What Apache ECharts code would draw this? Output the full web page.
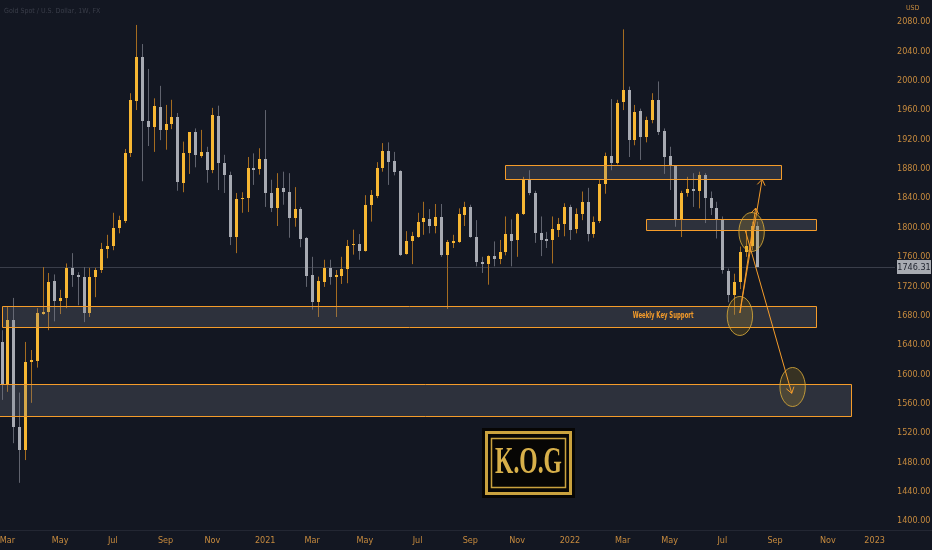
<!DOCTYPE html>
<html><head><meta charset="utf-8">
<script src="https://cdn.jsdelivr.net/npm/echarts@6/dist/echarts.min.js"></script>
<style>html,body{margin:0;padding:0;background:#131722;overflow:hidden}#c{width:932px;height:550px}</style>
</head><body><div id="c"></div><script>
// Weekly Gold Spot / USD candles, first bar week of 2020-02-24
const startDate = '2020-02-24';
const open = [1644,1585,1674,1528,1497,1617,1618,1682,1685,1727,1700,1704,1745,1735,1732,1683,1732,1742,1771,1775,
1799,1810,1902,1972,2032,1945,1937,1964,1933,1941,1950,1861,1902,1930,1897,1903,1878,1952,1888,1872,
1787,1838,1840,1881,1880,1893,1847,1827,1854,1848,1813,1825,1786,1735,1698,1726,1745,1732,1734,1743,
1775,1777,1768,1831,1843,1881,1904,1891,1877,1764,1781,1787,1808,1812,1802,1814,1762,1779,1780,1817,
1828,1787,1753,1750,1761,1757,1767,1791,1782,1818,1866,1847,1792,1784,1783,1797,1805,1828,1797,1818,
1835,1791,1808,1859,1897,1888,1970,1988,1920,1959,1924,1947,1974,1932,1897,1884,1811,1847,1853,1850,
1872,1840,1826,1811,1741,1708,1726,1767,1775,1802];
const high = [1660,1692,1704,1575,1644,1633,1690,1746,1738,1736,1715,1751,1765,1739,1746,1745,1745,1779,1790,1820,
1816,1907,1983,2076,2050,2016,1976,1993,1967,1974,1956,1917,1930,1935,1933,1910,1963,1966,1899,1876,
1847,1848,1896,1901,1908,1960,1865,1874,1876,1874,1855,1828,1787,1760,1733,1756,1756,1742,1760,1783,
1797,1791,1844,1851,1889,1915,1916,1903,1878,1795,1794,1820,1835,1825,1832,1832,1783,1790,1826,1835,
1831,1810,1760,1762,1781,1783,1815,1811,1820,1869,1878,1850,1815,1794,1815,1813,1833,1831,1826,1849,
1854,1815,1865,1902,1975,1974,2070,1992,1967,1962,1951,1983,1999,1935,1910,1885,1850,1869,1874,1876,
1874,1849,1835,1815,1744,1737,1774,1796,1808,1808];
const low = [1565,1576,1506,1452,1483,1561,1609,1681,1660,1672,1682,1690,1719,1694,1671,1678,1705,1738,1758,1769,
1792,1806,1896,1960,1863,1911,1903,1919,1906,1934,1850,1848,1873,1882,1895,1861,1874,1851,1847,1776,
1765,1820,1821,1858,1872,1828,1821,1802,1831,1786,1801,1773,1719,1688,1678,1719,1722,1678,1723,1724,
1763,1756,1767,1808,1840,1876,1858,1871,1761,1763,1750,1786,1790,1792,1792,1760,1689,1772,1779,1802,
1786,1747,1738,1722,1747,1750,1762,1747,1760,1817,1844,1779,1761,1772,1751,1787,1788,1783,1792,1810,
1781,1786,1806,1846,1878,1886,1960,1896,1912,1892,1916,1942,1926,1873,1851,1801,1787,1842,1828,1826,
1806,1817,1785,1737,1698,1681,1716,1760,1769,1746];
const close = [1585,1674,1528,1497,1617,1620,1683,1685,1726,1700,1704,1745,1735,1732,1683,1732,1742,1771,1775,1799,
1810,1902,1974,2032,1945,1937,1966,1933,1941,1950,1861,1902,1930,1899,1903,1878,1953,1888,1872,1787,
1839,1840,1881,1878,1893,1847,1827,1854,1848,1813,1825,1784,1734,1698,1727,1745,1733,1735,1743,1775,
1777,1768,1831,1844,1881,1904,1889,1876,1762,1782,1788,1808,1813,1802,1814,1762,1780,1782,1818,1828,
1787,1753,1750,1761,1757,1767,1791,1782,1818,1866,1847,1792,1782,1781,1798,1805,1828,1797,1818,1835,
1791,1808,1859,1897,1888,1970,1987,1920,1958,1924,1947,1974,1931,1897,1883,1811,1847,1853,1850,1872,
1840,1826,1811,1741,1708,1726,1767,1775,1802,1746.31];
const lastPrice = 1746.31;
const priceTicks = [1400,1440,1480,1520,1560,1600,1640,1680,1720,1760,1800,1840,1880,1920,1960,2000,2040,2080];
const monthNames = ['Jan','Feb','Mar','Apr','May','Jun','Jul','Aug','Sep','Oct','Nov','Dec'];
const labelMonths = [0,2,4,6,8,10];
// drawings anchored in data space: [weekFrom, weekTo, priceTop, priceBottom]
const zones = [[86,133,1885,1866],[110,139,1811.5,1796.6],[0,139,1693,1664.4],[-3,145,1586.7,1543]];
const ellipses = [[126,1679.4],[128,1793.8],[135,1582.6]];
const arrows = [[126,1683.4,129.8,1865.6],[126,1683.4,128.7,1826.5],[126.9,1796.6,134.85,1574]];
const noteText = ['Weekly Key Support'];
const notePos = [[112.9,1680]];

const nWeeks = 153;
const t0 = Date.parse(startDate + 'T00:00:00Z');
const weekDates = [];
for (let i = 0; i < nWeeks; i++) weekDates.push(new Date(t0 + i * 7 * 86400000));
const labelIdx = [];
weekDates.forEach((d, i) => { if (d.getUTCDate() <= 7 && labelMonths.includes(d.getUTCMonth())) labelIdx.push(i); });
const labelText = idx => { const d = weekDates[Math.round(idx)]; return d.getUTCMonth() === 0 ? String(d.getUTCFullYear()) : monthNames[d.getUTCMonth()]; };

const candles = open.map((o, i) => [i, o, close[i], low[i], high[i]]);

const UP = '#f7b733', UPW = '#a56c20', DN = '#a7aab2', DNW = '#60636e';
const ORANGE = '#f59c2a';
const narrow = "'DejaVu Sans Condensed','Liberation Sans Narrow',sans-serif";
const axisColor = '#c68a3e';

const chart = echarts.init(document.getElementById('c'), null, {renderer: 'canvas'});
chart.setOption({
  backgroundColor: '#131722',
  animation: false,
  grid: {left: 0, right: 37, top: 0, bottom: 20, containLabel: false, outerBoundsMode: 'none'},
  xAxis: {
    type: 'value', min: -0.256, max: 152.47,
    axisLine: {show: false}, axisTick: {show: false}, splitLine: {show: false},
    axisLabel: {customValues: labelIdx, formatter: v => labelText(v), color: axisColor,
      fontSize: 9, fontFamily: narrow, margin: 6}
  },
  yAxis: {
    type: 'value', position: 'right', min: 1387.7, max: 2110, scale: true,
    axisLine: {show: false}, axisTick: {show: false}, splitLine: {show: false},
    axisLabel: {customValues: priceTicks, formatter: v => v.toFixed(2), color: axisColor,
      fontSize: 9, fontFamily: narrow, margin: 2}
  },
  series: [
    {
      type: 'custom', name: 'price', z: 1, data: [[0, lastPrice]],
      renderItem: (params, api) => {
        const y = Math.round(api.coord([0, api.value(1)])[1]) + 0.5;
        const cs = params.coordSys;
        return {type: 'group', children: [
          {type: 'line', shape: {x1: cs.x, y1: y, x2: cs.x + cs.width, y2: y}, style: {stroke: '#3a3e4a', lineWidth: 1}},
          {type: 'rect', shape: {x: cs.x + cs.width + 2, y: y - 7.5, width: 34, height: 14}, style: {fill: '#a8abb2'}},
          {type: 'text', style: {text: api.value(1).toFixed(2), x: cs.x + cs.width + 19, y: y, textAlign: 'center', textVerticalAlign: 'middle', fill: '#1e222d', font: '9px ' + narrow}}
        ]};
      }
    },
    {
      type: 'custom', name: 'candles', z: 2, data: candles,
      encode: {x: 0, y: [1, 2, 3, 4]},
      renderItem: (params, api) => {
        const i = api.value(0), o = api.value(1), c = api.value(2), l = api.value(3), h = api.value(4);
        const pO = api.coord([i, o]), pC = api.coord([i, c]), pL = api.coord([i, l]), pH = api.coord([i, h]);
        const up = c >= o;
        const xc = Math.round(pO[0]);
        const top = Math.round(Math.min(pO[1], pC[1]));
        const bh = Math.max(1, Math.round(Math.abs(pO[1] - pC[1])));
        return {type: 'group', children: [
          {type: 'line', shape: {x1: xc + 0.5, y1: pH[1], x2: xc + 0.5, y2: pL[1]}, style: {stroke: up ? UPW : DNW, lineWidth: 1}},
          {type: 'rect', shape: {x: xc - 1, y: top, width: 3, height: bh}, style: {fill: up ? UP : DN}}
        ]};
      }
    },
    {
      type: 'custom', name: 'zones', z: 3, data: zones,
      renderItem: (params, api) => {
        const p1 = api.coord([api.value(0), api.value(2)]), p2 = api.coord([api.value(1), api.value(3)]);
        const x1 = Math.round(p1[0]) + 0.5, y1 = Math.round(p1[1]) + 0.5;
        const x2 = Math.round(p2[0]) + 0.5, y2 = Math.round(p2[1]) + 0.5;
        return {type: 'rect', shape: {x: x1, y: y1, width: x2 - x1, height: y2 - y1},
          style: {fill: 'rgba(120,123,134,0.26)', stroke: ORANGE, lineWidth: 1}};
      }
    },
    {
      type: 'custom', name: 'ellipses', z: 4, data: ellipses,
      renderItem: (params, api) => {
        const p = api.coord([api.value(0), api.value(1)]);
        return {type: 'ellipse', shape: {cx: p[0], cy: p[1], rx: 12.7, ry: 19.5},
          style: {fill: 'rgba(200,160,40,0.2)', stroke: 'rgba(214,168,56,0.85)', lineWidth: 1}};
      }
    },
    {
      type: 'custom', name: 'arrows', z: 5, data: arrows,
      renderItem: (params, api) => {
        const a = api.coord([api.value(0), api.value(1)]), b = api.coord([api.value(2), api.value(3)]);
        const ang = Math.atan2(b[1] - a[1], b[0] - a[0]);
        const L = 7, s = 0.6;
        const h1 = [b[0] - L * Math.cos(ang - s), b[1] - L * Math.sin(ang - s)];
        const h2 = [b[0] - L * Math.cos(ang + s), b[1] - L * Math.sin(ang + s)];
        return {type: 'group', children: [
          {type: 'line', shape: {x1: a[0], y1: a[1], x2: b[0], y2: b[1]}, style: {stroke: ORANGE, lineWidth: 1}},
          {type: 'polyline', shape: {points: [h1, b, h2]}, style: {stroke: ORANGE, lineWidth: 1, fill: null}}
        ]};
      }
    },
    {
      type: 'custom', name: 'notes', z: 6, data: notePos,
      renderItem: (params, api) => {
        const p = api.coord([api.value(0), api.value(1)]);
        return {type: 'text', scaleX: 0.66, x: p[0], y: p[1], style: {text: noteText[params.dataIndex], x: 0, y: 0, textAlign: 'center', textVerticalAlign: 'middle',
          fill: ORANGE, font: 'bold 9px ' + narrow}};
      }
    }
  ],
  graphic: [
    {type: 'line', shape: {x1: 0, y1: 530.5, x2: 932, y2: 530.5}, style: {stroke: '#232733', lineWidth: 1}, silent: true},
    {type: 'text', x: 4, y: 11, style: {text: 'Gold Spot / U.S. Dollar, 1W, FX', fill: '#3a3e4a', font: '7px ' + narrow, textVerticalAlign: 'middle'}},
    {type: 'text', x: 906, y: 8, style: {text: 'USD', fill: axisColor, font: '7px ' + narrow, textVerticalAlign: 'middle'}},
    {type: 'group', children: [
      {type: 'rect', shape: {x: 482, y: 428, width: 93, height: 70}, style: {fill: '#070605'}},
      {type: 'rect', shape: {x: 486.5, y: 432.5, width: 84, height: 61}, style: {fill: null, stroke: '#caa23e', lineWidth: 3}},
      {type: 'rect', shape: {x: 491.5, y: 438.5, width: 74, height: 49}, style: {fill: null, stroke: '#caa23e', lineWidth: 1.5}},
      {type: 'text', x: 528.5, y: 463.5, scaleX: 0.62, style: {text: 'K.O.G', x: 0, y: 0, textAlign: 'center', textVerticalAlign: 'middle',
        fill: '#d8b04a', font: 'bold 38px "Liberation Serif", "DejaVu Serif", serif'}}
    ]}
  ]
});
</script></body></html>
